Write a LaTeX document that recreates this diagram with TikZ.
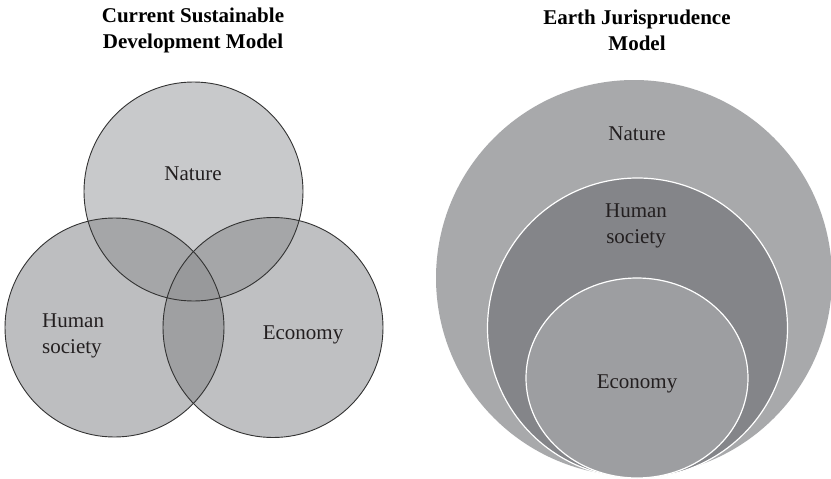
\documentclass[tikz,border=0pt]{standalone}
\usepackage{fontspec}
\setmainfont{Liberation Serif}
\definecolor{natfill}{HTML}{C8C9CB}
\definecolor{humfill}{HTML}{BDBEC0}
\definecolor{ecofill}{HTML}{BFC0C2}
\definecolor{pairfill}{HTML}{A5A6A8}
\definecolor{lensfill}{HTML}{9FA0A2}
\definecolor{triplefill}{HTML}{98999B}
\definecolor{venline}{HTML}{333333}
\definecolor{bignat}{HTML}{A8A9AB}
\definecolor{bighum}{HTML}{848589}
\definecolor{bigeco}{HTML}{9D9EA1}
\definecolor{labelgray}{HTML}{231F20}
\begin{document}
\begin{tikzpicture}[x=1pt,y=-1pt,
  lbl/.style={font=\fontsize{21}{26}\selectfont, text=labelgray, align=center, inner sep=0pt},
  ttl/.style={font=\fontsize{21}{26}\selectfont\bfseries, align=center, inner sep=0pt},
  venn/.style={draw=venline, line width=0.9pt},
  ring/.style={draw=white, line width=1.2pt}]
\useasboundingbox (0,0) rectangle (831,479);
\fill[white] (0,0) rectangle (831,479);
\def\Nat{(193.5,191.5) circle (109.5pt)}
\def\Hum{(114.5,327.5) circle (109.5pt)}
\def\Eco{(273,327.5) circle (110pt)}
% left Venn
\fill[natfill] \Nat;
\fill[humfill] \Hum;
\fill[ecofill] \Eco;
\begin{scope}\clip \Nat; \fill[pairfill] \Hum; \fill[pairfill] \Eco; \end{scope}
\begin{scope}\clip \Hum; \fill[lensfill] \Eco; \end{scope}
\begin{scope}\clip \Nat; \clip \Hum; \fill[triplefill] \Eco; \end{scope}
\draw[venn] \Nat;
\draw[venn] \Hum;
\draw[venn] \Eco;
% right nested
\fill[bignat] (634,278) circle (198pt);
\filldraw[fill=bighum, ring] (637.5,328) circle (150pt);
\filldraw[fill=bigeco, ring] (637,378) ellipse [x radius=111pt, y radius=100pt];
% texts
\node[ttl] (t1) at (193,30) {Current Sustainable\\Development Model};
\node[ttl] (t2) at (637,30) {Earth Jurisprudence\\Model};
\node[lbl] (ln) at (193,174) {Nature};
\node[lbl, align=left, anchor=west] (lh) at (42,336) {Human\\society};
\node[lbl] (le) at (303,335) {Economy};
\node[lbl] (rn) at (637,134) {Nature};
\node[lbl] (rh) at (636,226) {Human\\society};
\node[lbl] (re) at (637,384) {Economy};
\end{tikzpicture}
\end{document}
